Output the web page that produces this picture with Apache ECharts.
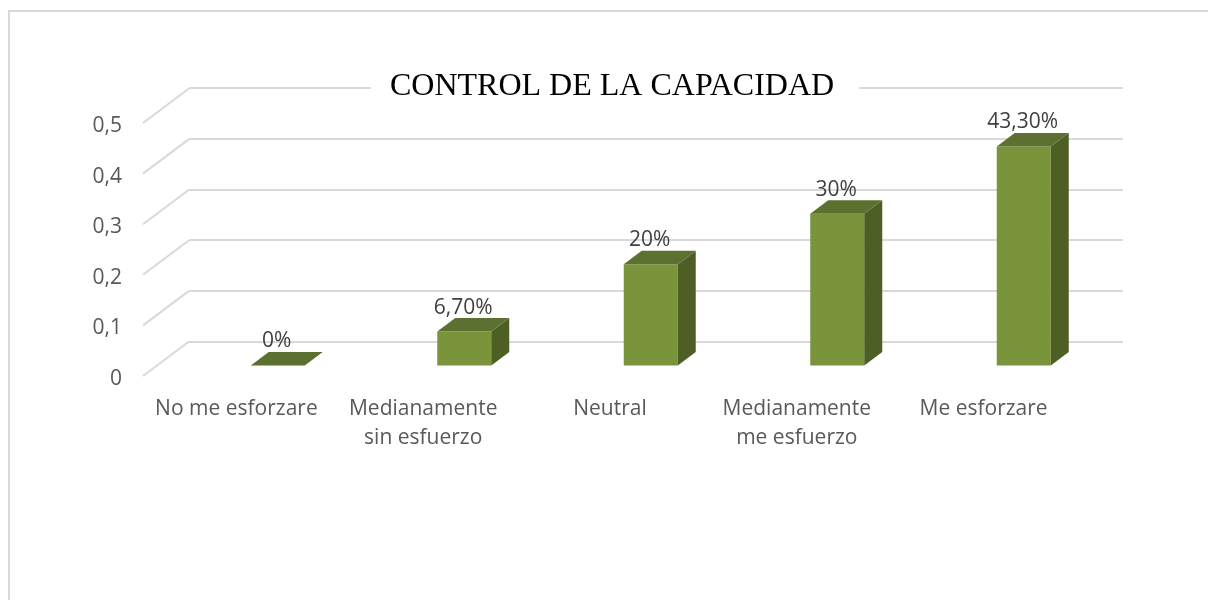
<!DOCTYPE html>
<html>
<head>
<meta charset="utf-8">
<title>Control de la capacidad</title>
<script src="https://cdn.jsdelivr.net/npm/echarts@6/dist/echarts.min.js"></script>
<style>
html, body { margin: 0; padding: 0; background: #fff; }
#chart { width: 1208px; height: 600px; }
</style>
</head>
<body>
<div id="chart"></div>
<script>
var categories = ["No me esforzare", "Medianamente\nsin esfuerzo", "Neutral", "Medianamente\nme esfuerzo", "Me esforzare"];
var values = [0, 0.067, 0.2, 0.3, 0.433];
var valueLabels = ["0%", "6,70%", "20%", "30%", "43,30%"];
var ticks = [0, 0.1, 0.2, 0.3, 0.4, 0.5];

var depthX = 46, depthY = 34.5;     // floor diagonal
var barDepthX = 18, barDepthY = 13.5;
var barWidth = 54;

function poly(points, color) {
  return { type: "polygon", shape: { points: points }, style: { fill: color } };
}

function renderBar(params, api) {
  var top = api.coord([api.value(0), api.value(1)]);
  var base = api.coord([api.value(0), 0]);
  var l = top[0] - barWidth / 2, r = top[0] + barWidth / 2;
  var dx = barDepthX, dy = barDepthY;
  var children = [];
  if (base[1] - top[1] > 0.5) {
    children.push(poly([[l, top[1]], [r, top[1]], [r, base[1]], [l, base[1]]], "#7a943c"));
    children.push(poly([[r, top[1]], [r + dx, top[1] - dy], [r + dx, base[1] - dy], [r, base[1]]], "#4e5f26"));
  }
  children.push(poly([[l, top[1]], [l + dx, top[1] - dy], [r + dx, top[1] - dy], [r, top[1]]], "#5c7030"));
  children.push({
    type: "text",
    style: {
      x: top[0] - 1, y: top[1] - 24,
      text: valueLabels[params.dataIndex],
      fill: "#404040", font: "21px 'Open Sans'",
      align: "center", verticalAlign: "middle"
    }
  });
  return { type: "group", children: children };
}

function renderDiagonal(params, api) {
  var x = params.coordSys.x;
  var y = api.coord([0, api.value(0)])[1];
  return {
    type: "line",
    shape: { x1: x, y1: y, x2: x + depthX, y2: y - depthY },
    style: { stroke: "#d9d9d9", lineWidth: 2 }
  };
}

var myChart = echarts.init(document.getElementById("chart"));
myChart.setOption({
  animation: false,
  backgroundColor: "#fff",
  title: {
    text: "CONTROL DE LA CAPACIDAD",
    left: 371,
    top: 68,
    padding: [3, 25, 3, 19],
    backgroundColor: "#fff",
    textStyle: { fontFamily: "Liberation Serif", fontSize: 32, fontWeight: "normal", color: "#000" }
  },
  graphic: [{
    type: "polyline",
    silent: true,
    shape: { points: [[9, 600], [9, 11], [1208, 11]] },
    style: { stroke: "#d9d9d9", lineWidth: 2, fill: null }
  }],
  grid: [
    { left: 189, right: 85, top: 88, height: 253.5 },   // back wall
    { left: 143, right: 131, top: 123, height: 253 },   // front plane, holds the labels
    { left: 184.5, right: 91, top: 112.5, height: 253 } // plane of the bars
  ],
  xAxis: [
    { gridIndex: 0, type: "category", data: categories, show: false },
    {
      gridIndex: 1, type: "category", data: categories,
      axisLine: { show: false }, axisTick: { show: false },
      axisLabel: {
        interval: 0, margin: 19, color: "#595959", lineHeight: 29,
        fontFamily: "Open Sans", fontSize: 21
      }
    },
    { gridIndex: 2, type: "category", data: categories, show: false }
  ],
  yAxis: [
    {
      gridIndex: 0, type: "value", min: 0, max: 0.5, interval: 0.1,
      axisLine: { show: false }, axisTick: { show: false }, axisLabel: { show: false },
      splitLine: { lineStyle: { color: "#d9d9d9", width: 2 } }
    },
    {
      gridIndex: 1, type: "value", min: 0, max: 0.5, interval: 0.1,
      axisLine: { show: false }, axisTick: { show: false }, splitLine: { show: false },
      axisLabel: {
        margin: 21, color: "#595959", fontFamily: "Open Sans", fontSize: 21,
        verticalAlign: "top", lineHeight: 6,
        formatter: function (v) { return String(v).replace(".", ","); }
      }
    },
    {
      gridIndex: 2, type: "value", min: 0, max: 0.5, interval: 0.1,
      show: false
    }
  ],
  series: [
    {
      type: "custom", xAxisIndex: 1, yAxisIndex: 1, clip: false, silent: true,
      renderItem: renderDiagonal,
      encode: { y: 0 },
      data: ticks.map(function (t) { return [t]; }),
      z: 1
    },
    {
      type: "custom", xAxisIndex: 2, yAxisIndex: 2, clip: false,
      renderItem: renderBar,
      encode: { x: 0, y: 1 },
      data: values.map(function (v, i) { return [i, v]; }),
      z: 3
    }
  ]
});
</script>
</body>
</html>
